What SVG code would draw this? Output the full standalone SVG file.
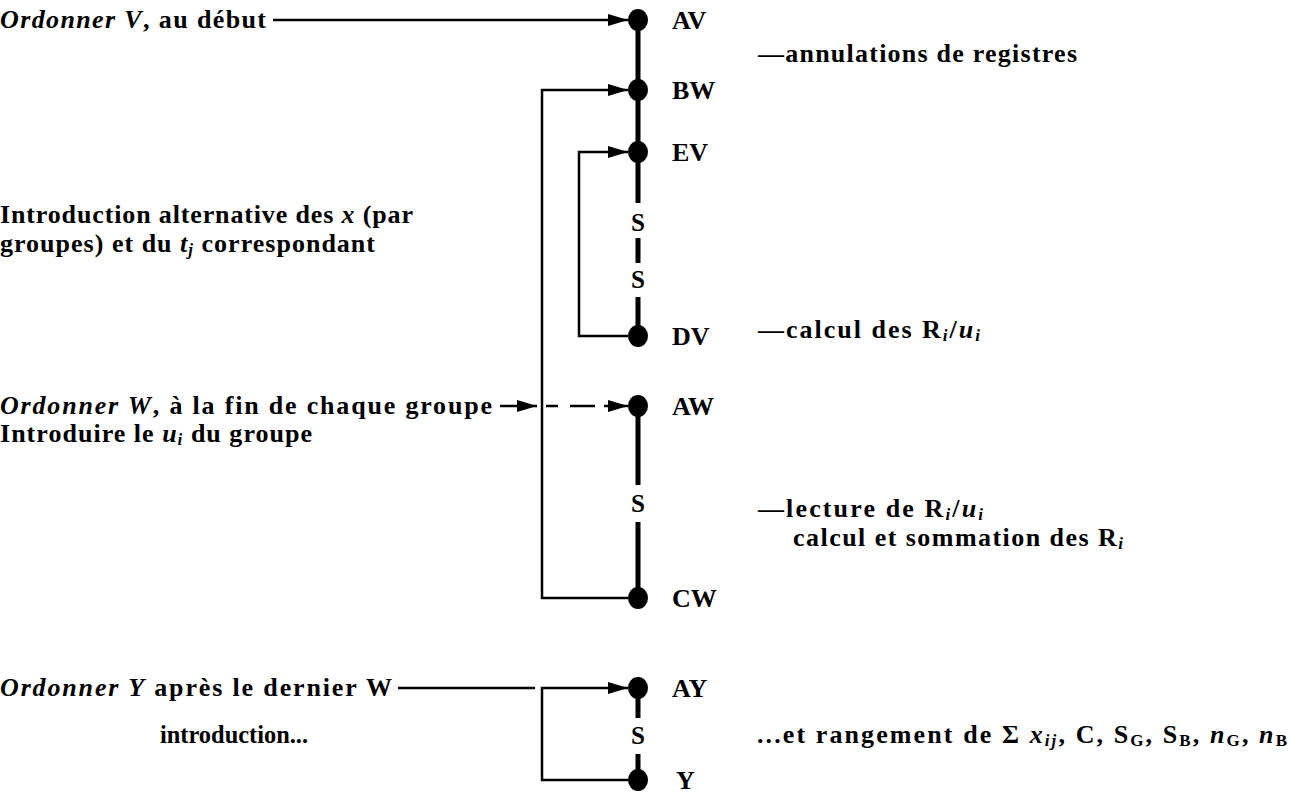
<svg xmlns="http://www.w3.org/2000/svg" width="1291" height="809" viewBox="0 0 1291 809">
<style>
  text { font-family: "Liberation Serif", "DejaVu Serif", serif; font-weight: bold; font-size: 26px; fill: #000; }
  .it { font-style: italic; }
  .bi { font-style: italic; }
  .lbl { font-size: 26px; }
  .s { font-size: 25px; text-anchor: middle; }
  .sub { font-size: 17px; }
  .thin { fill: none; stroke: #000; stroke-width: 2.5; }
  .spine { fill: none; stroke: #000; stroke-width: 5; }
  .dot { fill: #000; }
</style>
<defs>
  <marker id="ah" viewBox="0 0 20 12" refX="20" refY="6" markerWidth="20" markerHeight="12" markerUnits="userSpaceOnUse" orient="auto">
    <path d="M0,0 L20,6 L0,12 z" fill="#000"/>
  </marker>
</defs>
<rect width="1291" height="809" fill="#fff"/>

<g id="connectors">
  <path class="spine" d="M638,20 V203 M638,238 V263 M638,297 V336 M638,406 V485 M638,522 V598 M638,688 V718 M638,754 V780"/>
  <path class="thin" d="M273,20 H628" marker-end="url(#ah)"/>
  <path class="thin" d="M628,598 H542 V90 H628" marker-end="url(#ah)"/>
  <path class="thin" d="M628,336 H579 V152 H628" marker-end="url(#ah)"/>
  <path class="thin" d="M500,406 H537" marker-end="url(#ah)"/>
  <path class="thin" d="M546,406 H558 M570,406 H595 M604,406 H612"/>
  <path class="thin" d="M608,406 H628" marker-end="url(#ah)"/>
  <path class="thin" d="M398,688 H535"/>
  <path class="thin" d="M628,780 H542 V688 H628" marker-end="url(#ah)"/>
  <text class="s" x="638" y="231">S</text>
  <text class="s" x="638" y="288">S</text>
  <text class="s" x="638" y="512">S</text>
  <text class="s" x="638" y="744">S</text>
</g>

<g id="node-AV"><ellipse class="dot" cx="638" cy="20" rx="10" ry="11"/><text class="lbl" x="672" y="29">AV</text></g>
<g id="node-BW"><ellipse class="dot" cx="638" cy="90" rx="10" ry="11"/><text class="lbl" x="672" y="99">BW</text></g>
<g id="node-EV"><ellipse class="dot" cx="638" cy="152" rx="10" ry="11"/><text class="lbl" x="672" y="161">EV</text></g>
<g id="node-DV"><ellipse class="dot" cx="638" cy="336" rx="10" ry="11"/><text class="lbl" x="672" y="345">DV</text></g>
<g id="node-AW"><ellipse class="dot" cx="638" cy="406" rx="10" ry="11"/><text class="lbl" x="672" y="415">AW</text></g>
<g id="node-CW"><ellipse class="dot" cx="638" cy="598" rx="10" ry="11"/><text class="lbl" x="672" y="607">CW</text></g>
<g id="node-AY"><ellipse class="dot" cx="638" cy="688" rx="10" ry="11"/><text class="lbl" x="672" y="697">AY</text></g>
<g id="node-Y"><ellipse class="dot" cx="638" cy="780" rx="10" ry="11"/><text class="lbl" x="676" y="789">Y</text></g>

<g id="left-texts">
  <text x="0" y="28" textLength="266" lengthAdjust="spacing"><tspan class="it">Ordonner V</tspan>, au début</text>
  <text x="0" y="223" textLength="413" lengthAdjust="spacing">Introduction alternative des <tspan class="it">x</tspan> (par</text>
  <text x="0" y="252" textLength="375" lengthAdjust="spacing">groupes) et du <tspan class="bi">t</tspan><tspan class="bi sub" dy="3">j</tspan><tspan dy="-3"> correspondant</tspan></text>
  <text x="0" y="414" textLength="492" lengthAdjust="spacing"><tspan class="it">Ordonner W</tspan>, à la fin de chaque groupe</text>
  <text x="0" y="442" textLength="312" lengthAdjust="spacing">Introduire le <tspan class="bi">u</tspan><tspan class="bi sub" dy="3">i</tspan><tspan dy="-3"> du groupe</tspan></text>
  <text x="0" y="696" textLength="392" lengthAdjust="spacing"><tspan class="it">Ordonner Y</tspan> après le dernier W</text>
  <text x="160" y="743" textLength="148" lengthAdjust="spacingAndGlyphs">introduction...</text>
</g>

<g id="right-texts">
  <text x="758" y="62" textLength="319" lengthAdjust="spacing">—annulations de registres</text>
  <text x="758" y="338" textLength="222" lengthAdjust="spacing">—calcul des R<tspan class="bi sub" dy="3">i</tspan><tspan dy="-3">/</tspan><tspan class="bi">u</tspan><tspan class="bi sub" dy="3">i</tspan></text>
  <text x="758" y="517" textLength="225" lengthAdjust="spacing">—lecture de R<tspan class="bi sub" dy="3">i</tspan><tspan dy="-3">/</tspan><tspan class="bi">u</tspan><tspan class="bi sub" dy="3">i</tspan></text>
  <text x="793" y="546" textLength="330" lengthAdjust="spacing">calcul et sommation des R<tspan class="bi sub" dy="3">i</tspan></text>
  <text x="757" y="743" textLength="530" lengthAdjust="spacing">...et rangement de Σ <tspan class="bi">x</tspan><tspan class="bi sub" dy="3">ij</tspan><tspan dy="-3">, C, S</tspan><tspan class="sub" dy="3">G</tspan><tspan dy="-3">, S</tspan><tspan class="sub" dy="3">B</tspan><tspan dy="-3">, </tspan><tspan class="bi">n</tspan><tspan class="sub" dy="3">G</tspan><tspan dy="-3">, </tspan><tspan class="bi">n</tspan><tspan class="sub" dy="3">B</tspan></text>
</g>
</svg>
